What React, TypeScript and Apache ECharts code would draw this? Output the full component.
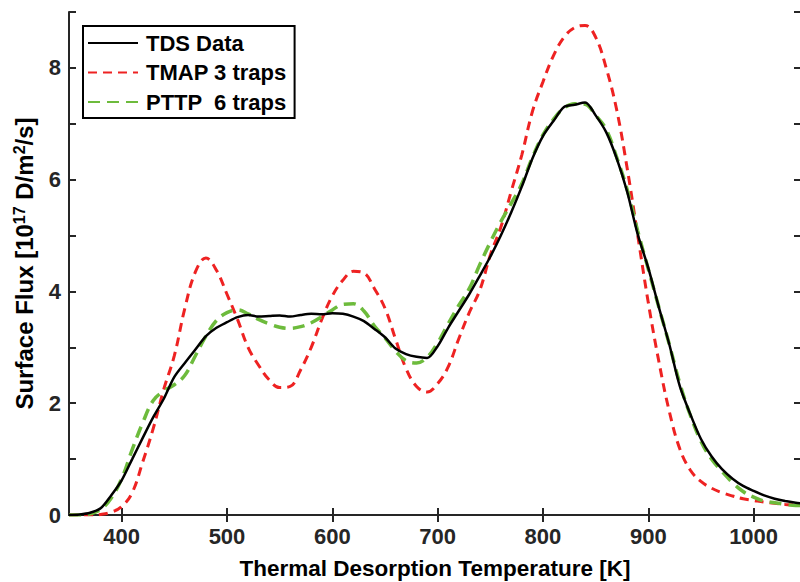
import React, { useEffect, useRef } from "react";
import * as echarts from "echarts";

const temps = [
  350, 360, 370, 380, 390, 400, 410, 420, 430, 440, 450, 460, 470, 480, 490, 500,
  510, 520, 530, 540, 550, 560, 570, 580, 590, 600, 610, 620, 630, 640, 650, 660,
  670, 680, 690, 700, 710, 720, 730, 740, 750, 760, 770, 780, 790, 800, 810, 820,
  830, 840, 850, 860, 870, 880, 890, 900, 910, 920, 930, 940, 950, 960, 970, 980,
  990, 1000, 1010, 1020, 1030, 1040, 1045,
];

const tdsFlux = [
  0.0, 0.01, 0.04, 0.12, 0.35, 0.62, 1.0, 1.38, 1.75, 2.08, 2.47, 2.72, 2.96, 3.2, 3.35, 3.45,
  3.54, 3.58, 3.55, 3.56, 3.57, 3.55, 3.58, 3.6, 3.59, 3.61, 3.6, 3.55, 3.47, 3.33, 3.18, 2.98,
  2.88, 2.83, 2.81, 3.02, 3.35, 3.65, 3.95, 4.28, 4.62, 5.0, 5.42, 5.88, 6.38, 6.78, 7.05, 7.3,
  7.34, 7.38, 7.15, 6.85, 6.38, 5.78, 5.02, 4.42, 3.72, 3.05, 2.3, 1.8, 1.36, 1.05, 0.82, 0.65,
  0.52, 0.43, 0.35, 0.29, 0.25, 0.22, 0.21,
];

const tmapFlux = [
  0.0, 0.0, 0.0, 0.01, 0.05, 0.15, 0.4, 0.95, 1.55, 2.25, 2.85, 3.7, 4.35, 4.6, 4.38, 3.95,
  3.5, 3.0, 2.68, 2.42, 2.28, 2.3, 2.6, 3.0, 3.5, 3.92, 4.2, 4.36, 4.33, 4.05, 3.7, 3.15,
  2.62, 2.3, 2.2, 2.35, 2.65, 3.15, 3.62, 4.02, 4.65, 5.15, 5.8, 6.45, 7.22, 7.75, 8.22, 8.55,
  8.72, 8.76, 8.55, 8.0, 7.25, 6.2, 5.0, 3.8, 2.75, 1.85, 1.18, 0.8, 0.6, 0.48, 0.4, 0.34,
  0.29, 0.26, 0.23, 0.21, 0.19, 0.18, 0.17,
];

const pttpFlux = [
  0.0, 0.0, 0.02, 0.1, 0.3, 0.65, 1.17, 1.65, 2.05, 2.22, 2.33, 2.5, 2.85, 3.2, 3.48, 3.62,
  3.67, 3.6, 3.5, 3.42, 3.36, 3.34, 3.37, 3.44, 3.55, 3.67, 3.77, 3.78, 3.65, 3.38, 3.17, 2.93,
  2.76, 2.72, 2.82, 3.08, 3.42, 3.75, 4.05, 4.48, 4.88, 5.25, 5.58, 5.93, 6.4, 6.8, 7.08, 7.28,
  7.36, 7.35, 7.15, 6.9, 6.4, 5.82, 5.08, 4.4, 3.72, 3.05, 2.35, 1.78, 1.32, 1.0, 0.78, 0.58,
  0.42, 0.32, 0.25, 0.22, 0.19, 0.17, 0.17,
];

const seriesNames = ["TDS Data", "TMAP 3 traps", "PTTP  6 traps"];
const xTicks = [400, 500, 600, 700, 800, 900, 1000];
const yLabelValues = [0, 2, 4, 6, 8];

const FONT = "'Liberation Sans', Arial, Helvetica, sans-serif";
const AXIS_COLOR = "#262626";

function pairs(vals: number[]) {
  return temps.map((t, i) => [t, vals[i]]);
}

export default function App() {
  const ref = useRef<HTMLDivElement>(null);
  useEffect(() => {
    if (!ref.current) return;
    const chart = echarts.init(ref.current, undefined, { renderer: "svg" });
    const axisLine = { show: true, lineStyle: { color: AXIS_COLOR, width: 2 } };
    const tick = { show: true, inside: true, length: 7, lineStyle: { color: AXIS_COLOR, width: 2 } };
    chart.setOption({
      animation: false,
      backgroundColor: "#ffffff",
      textStyle: { fontFamily: FONT },
      grid: { left: 69, right: -1, top: 12, bottom: 67, outerBoundsMode: "none", containLabel: false },
      legend: {
        data: seriesNames,
        orient: "vertical",
        left: 83,
        top: 26,
        backgroundColor: "#ffffff",
        borderColor: "#000000",
        borderWidth: 2,
        borderRadius: 0,
        padding: [6, 8, 5, 4],
        itemWidth: 50,
        itemHeight: 14,
        itemGap: 7.5,
        itemStyle: { opacity: 0 },
        textStyle: {
          fontFamily: FONT,
          fontSize: 22,
          fontWeight: "bold",
          color: "#000000",
          lineHeight: 22,
          padding: [0, 0, 0, 3],
        },
      },
      xAxis: [
        {
          type: "value",
          min: 350,
          max: 1045,
          position: "bottom",
          axisLine,
          axisTick: { ...tick, customValues: xTicks },
          axisLabel: {
            customValues: xTicks,
            formatter: (v: number) => String(v),
            color: AXIS_COLOR,
            fontSize: 22,
            fontWeight: "bold",
            fontFamily: FONT,
            margin: 10,
          },
          splitLine: { show: false },
          name: "Thermal Desorption Temperature [K]",
          nameLocation: "middle",
          nameGap: 42,
          nameTextStyle: { color: "#000000", fontSize: 22.5, fontWeight: "bold", fontFamily: FONT },
        },
        {
          type: "value",
          min: 350,
          max: 1045,
          position: "top",
          axisLine,
          axisTick: { ...tick, customValues: xTicks },
          axisLabel: { show: false },
          splitLine: { show: false },
        },
      ],
      yAxis: [
        {
          type: "value",
          min: 0,
          max: 9,
          interval: 1,
          position: "left",
          axisLine,
          axisTick: tick,
          axisLabel: {
            customValues: yLabelValues,
            formatter: (v: number) => String(v),
            color: AXIS_COLOR,
            fontSize: 22,
            fontWeight: "bold",
            fontFamily: FONT,
            margin: 8,
          },
          splitLine: { show: false },
          name: "Surface Flux [10{sup|17} D/m{sup|2}/s]",
          nameLocation: "middle",
          nameGap: 22,
          nameTextStyle: {
            color: "#000000",
            fontSize: 24,
            fontWeight: "bold",
            fontFamily: FONT,
            lineHeight: 26,
            rich: {
              sup: {
                fontSize: 16,
                fontWeight: "bold",
                fontFamily: FONT,
                color: "#000000",
                verticalAlign: "top",
                lineHeight: 26,
              },
            },
          },
        },
        {
          type: "value",
          min: 0,
          max: 9,
          interval: 1,
          position: "right",
          axisLine,
          axisTick: tick,
          axisLabel: { show: false },
          splitLine: { show: false },
        },
      ],
      series: [
        {
          name: seriesNames[0],
          type: "line",
          data: pairs(tdsFlux),
          symbol: "none",
          smooth: 0.3,
          lineStyle: { color: "#000000", width: 2.5 },
          itemStyle: { color: "#000000" },
          z: 5,
        },
        {
          name: seriesNames[1],
          type: "line",
          data: pairs(tmapFlux),
          symbol: "none",
          smooth: 0.4,
          lineStyle: { color: "#ee2222", width: 3, type: [9, 6] },
          itemStyle: { color: "#ee2222" },
          z: 3,
        },
        {
          name: seriesNames[2],
          type: "line",
          data: pairs(pttpFlux),
          symbol: "none",
          smooth: 0.4,
          lineStyle: { color: "#6dbb3c", width: 3.5, type: [12, 7] },
          itemStyle: { color: "#6dbb3c" },
          z: 4,
        },
      ],
    });
    return () => chart.dispose();
  }, []);
  return <div ref={ref} style={{ width: 800, height: 582, position: "absolute", left: 0, top: 0 }} />;
}
